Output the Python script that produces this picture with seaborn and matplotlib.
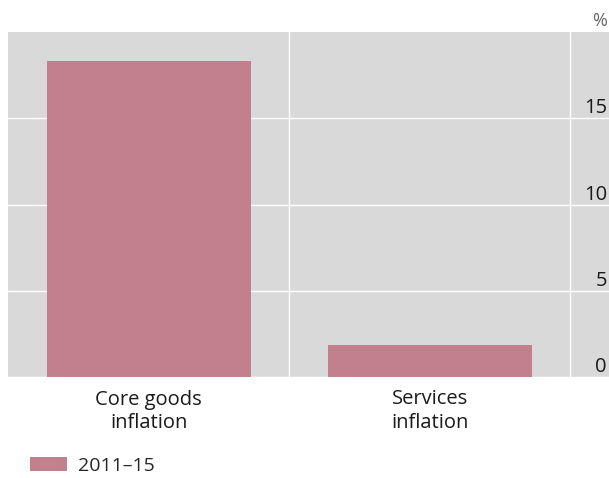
import matplotlib
matplotlib.use("Agg")
import matplotlib.pyplot as plt
import pandas as pd
import seaborn as sns

categories = ["Core goods\ninflation", "Services\ninflation"]
values = [18.3, 1.85]
period = "2011–15"

BAR_COLOR = "#c27f8e"
BG = "#d9d9d9"

sns.set_theme(style="darkgrid")
plt.rcParams["font.family"] = ["Open Sans", "DejaVu Sans"]

df = pd.DataFrame({"category": categories, "value": values, "period": [period] * len(categories)})

fig = plt.figure(figsize=(6.09, 4.78), dpi=100)
ax = fig.add_axes([8 / 609, 101 / 478, 601 / 609, 345 / 478])
ax.set_facecolor(BG)

sns.barplot(data=df, x="category", y="value", hue="period", palette=[BAR_COLOR],
            width=0.726, saturation=1, linewidth=0, ax=ax, zorder=3)

ax.set_xlim(-0.5, 1.637)
ax.set_ylim(0, 20)
ax.set_yticks([0, 5, 10, 15])
ax.set_xlabel("")
ax.set_ylabel("")

# vertical gridlines between categories
ax.set_xticks([0.5, 1.5], minor=True)
ax.grid(False)
ax.grid(True, axis="y", which="major", color="white", linewidth=1.0)
ax.grid(True, axis="x", which="minor", color="white", linewidth=1.0)
ax.tick_params(axis="x", which="both", length=0, pad=9, labelsize=14.5, colors="#1a1a1a")
ax.yaxis.tick_right()
ax.tick_params(axis="y", length=0, pad=-1.5, labelsize=14.5, colors="#1a1a1a")
for lab in ax.get_yticklabels():
    lab.set_ha("right")
    lab.set_va("bottom")
for lab in ax.get_xticklabels():
    lab.set_linespacing(1.2)
for s in ax.spines.values():
    s.set_visible(False)

fig.text(607 / 609, 1 - 21 / 478, "%", ha="right", va="center", fontsize=13, color="#666666")

handles, labels = ax.get_legend_handles_labels()
ax.get_legend().remove()
fig.legend(handles, labels, loc="center left", bbox_to_anchor=(22 / 609, 1 - 466 / 478),
           frameon=False, fontsize=14, handlelength=1.9, handleheight=0.75,
           handletextpad=0.6, borderaxespad=0.0)

fig.savefig("out.png", dpi=100)
